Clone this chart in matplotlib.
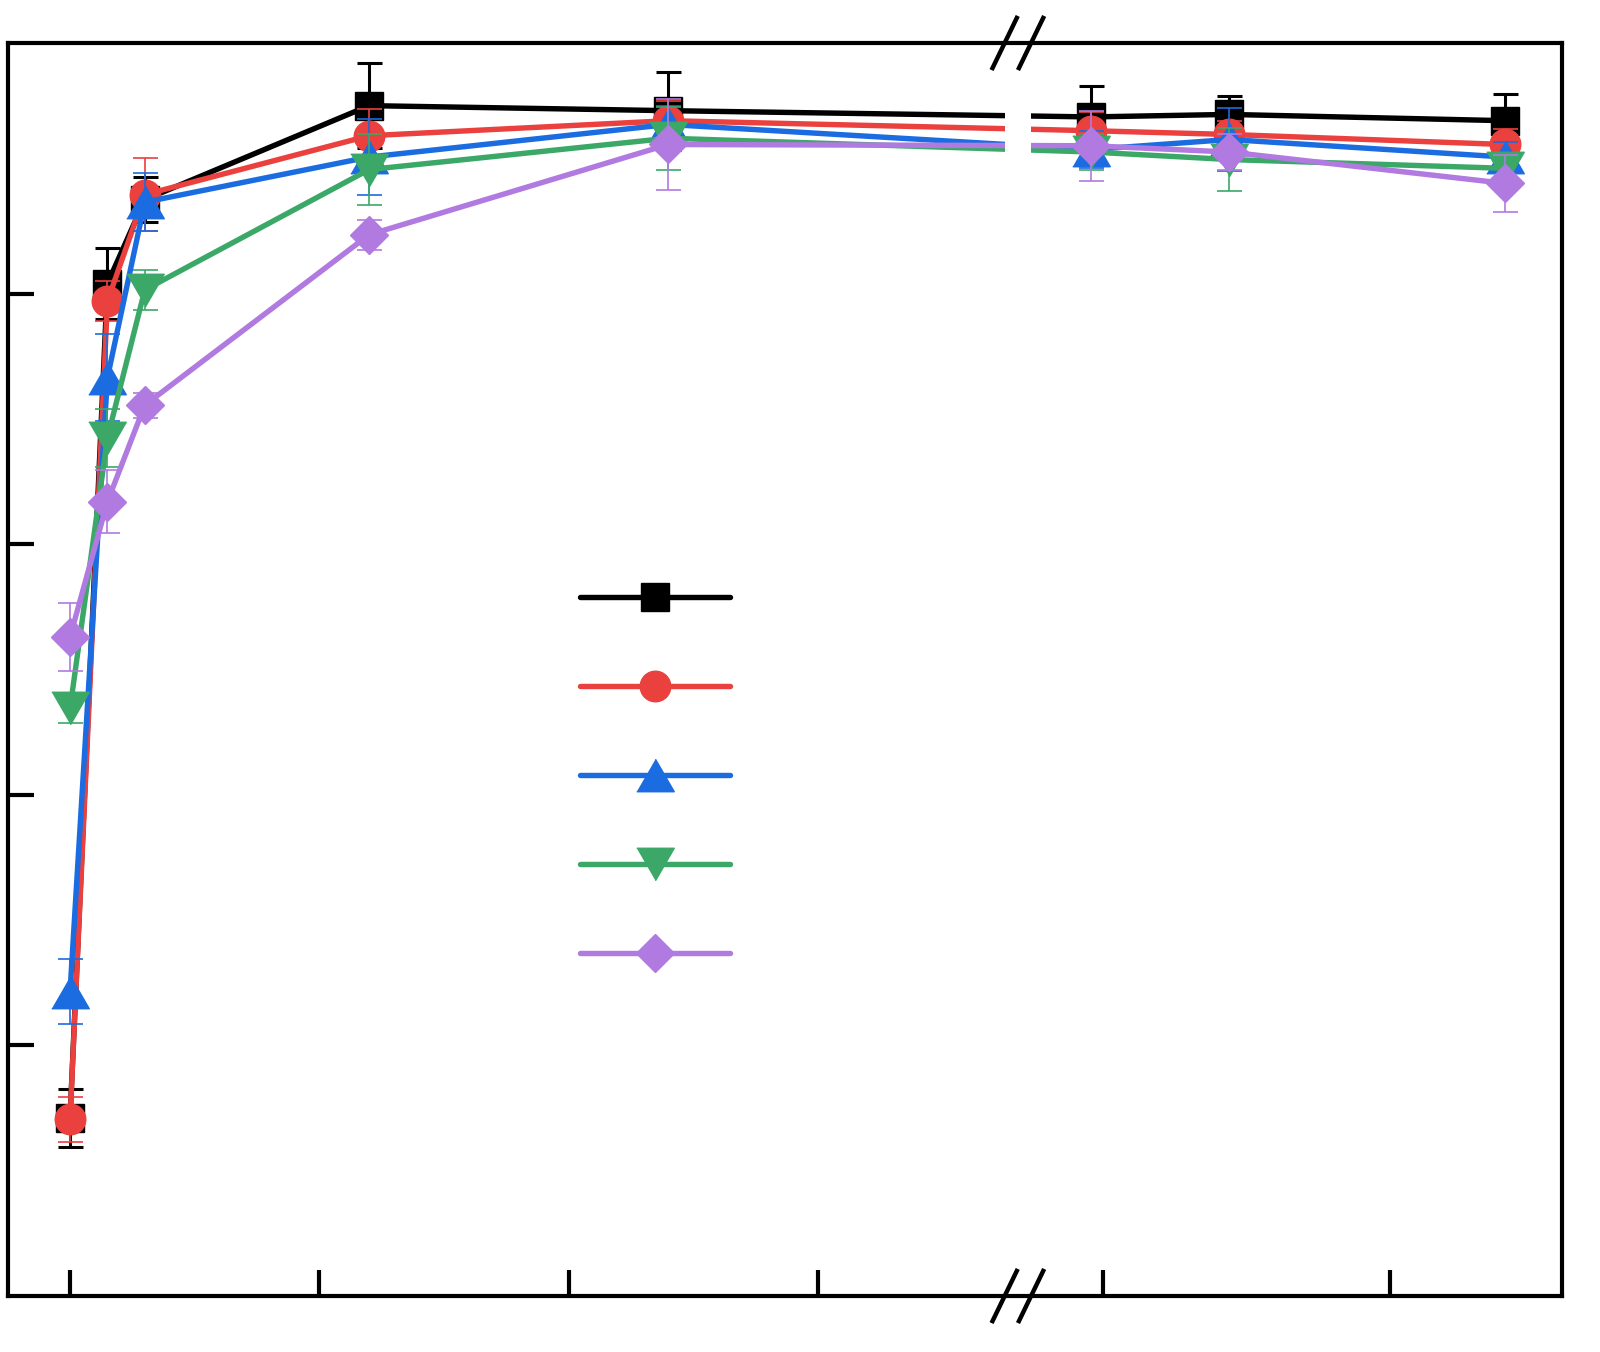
import numpy as np
import matplotlib
matplotlib.use("Agg")
import matplotlib.pyplot as plt

# Data (time in h, value in %)
time = [0, 1.5, 3, 12, 24, 48, 72, 120]

black = [14.2, 80.8, 87.5, 95.0, 94.6, 94.1, 94.3, 93.8]
red = [14.1, 79.4, 87.9, 92.6, 93.8, 93.0, 92.7, 91.9]
blue = [24.3, 73.3, 87.3, 90.9, 93.5, 91.5, 92.3, 90.9]
green = [46.9, 68.5, 80.3, 89.9, 92.4, 91.3, 90.7, 90.0]
purple = [52.6, 63.4, 71.1, 84.7, 91.9, 91.8, 91.3, 88.8]

black_err = [2.3, 2.8, 1.8, 3.4, 3.1, 2.5, 1.5, 2.1]
red_err = [1.8, 1.6, 2.9, 2.1, 1.6, 1.5, 1.1, 1.2]
blue_err = [2.6, 3.5, 2.3, 3.0, 1.5, 1.5, 2.5, 1.2]
green_err = [1.2, 2.3, 1.6, 2.8, 2.5, 1.4, 2.5, 1.2]
purple_err = [2.7, 2.5, 1.0, 1.2, 3.6, 2.8, 1.4, 2.3]

xticks_left = [0, 10, 20, 30]
xticks_right = [50, 100]
yticks = [20, 40, 60, 80]

# broken x axis: linear up to BREAK, compressed after it
BREAK = 37.5
GAP = 1.06
RATIO = 0.2303


def fwd(x):
    x = np.asarray(x, dtype=float)
    return np.where(x <= BREAK, x, BREAK + GAP + (x - BREAK) * RATIO)


def inv(u):
    u = np.asarray(u, dtype=float)
    out = np.where(u <= BREAK, u, BREAK + (u - BREAK - GAP) / RATIO)
    return np.where((u > BREAK) & (u < BREAK + GAP), BREAK, out)


tri_up = [(-1, -0.866), (1, -0.866), (0, 0.866)]
tri_down = [(-1, 0.866), (1, 0.866), (0, -0.866)]

series = [
    (black, black_err, "#000000", "s", 19.5, 2.2),
    (red, red_err, "#EA403E", "o", 22, 1.2),
    (blue, blue_err, "#1B6CE0", tri_up, 27, 1.2),
    (green, green_err, "#3BA868", tri_down, 27, 1.2),
    (purple, purple_err, "#B07AE0", "D", 19.5, 1.2),
]

fig = plt.figure(figsize=(16, 13.52), dpi=100)
ax = fig.add_axes([8 / 1600, 56 / 1352, 1554 / 1600, 1253 / 1352])
ax.set_xscale("function", functions=(fwd, inv))

handles = []
for i, (vals, err, col, mk, ms, elw) in enumerate(series):
    c = ax.errorbar(time, vals, yerr=err, color=col, marker=mk, markersize=ms,
                    lw=3.9, elinewidth=elw, capsize=9, capthick=elw,
                    barsabove=True, zorder=2 + i, solid_capstyle="round")
    handles.append(c[0])

ax.set_xlim(-2.49, 130)
ax.set_ylim(0, 100)

# white gap where the axis is broken
ax.axvspan(BREAK, BREAK + 1e-6, color="white", lw=0, zorder=8)

ax.set_xticks(xticks_left + xticks_right)
ax.set_yticks(yticks)
ax.tick_params(direction="in", length=18.5, width=3, labelbottom=False,
               labelleft=False)
for sp in ax.spines.values():
    sp.set_linewidth(3)
    sp.set_zorder(9)

# break marks
fig.canvas.draw()
to_axes = ax.transAxes.inverted()
for xb in [BREAK, BREAK + 1e-6]:
    xa = to_axes.transform(ax.transData.transform((xb, 50)))[0]
    for ya in [0, 1]:
        ax.plot([xa - 0.0078, xa + 0.0078], [ya - 0.02, ya + 0.02],
                color="black", lw=3.2, transform=ax.transAxes,
                clip_on=False, zorder=10)

leg = ax.legend(handles, [" "] * 5, loc="upper left",
                bbox_to_anchor=(0.352, 0.588), frameon=False, fontsize=20,
                handlelength=5.4, labelspacing=2.2, numpoints=1)

fig.savefig("out.png", dpi=100)
